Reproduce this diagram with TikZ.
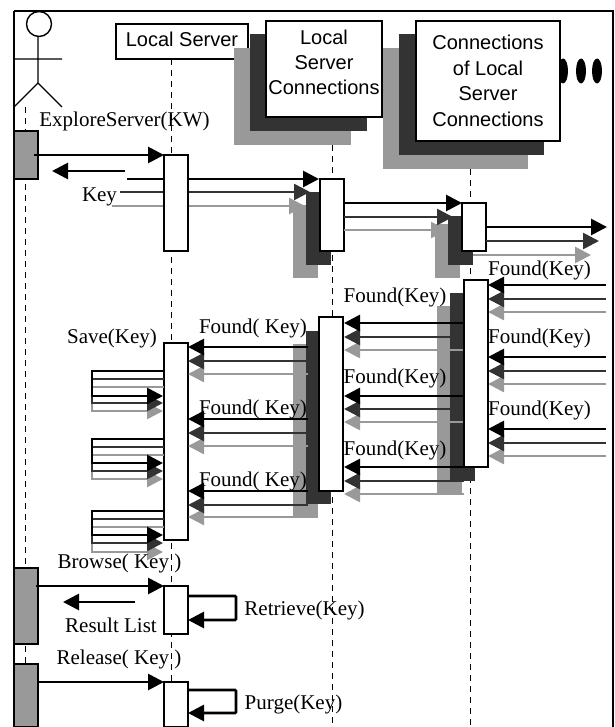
\documentclass[tikz,border=0pt]{standalone}
\usepackage{fontspec}
\setmainfont{Liberation Serif}
\setsansfont{Liberation Sans}
\usetikzlibrary{positioning, arrows.meta, shapes.geometric, fit}
\definecolor{msgdark}{RGB}{51,51,51}
\definecolor{msggray}{RGB}{153,153,153}
\tikzset{
  headbox/.style={rectangle, draw=black, line width=1.3pt, fill=white, inner sep=0pt, outer sep=0pt},
  headtext/.style={inner sep=0pt, align=center, font=\fontsize{20}{25.4}\selectfont\sffamily},
  actbox/.style={rectangle, draw=black, line width=1.2pt, fill=white, inner sep=0pt, outer sep=0pt},
  userbox/.style={rectangle, draw=black, line width=1.2pt, fill=msggray, inner sep=0pt, outer sep=0pt},
  msglabel/.style={anchor=base, inner sep=0pt, font=\fontsize{21}{25}\selectfont},
  lifeline/.style={draw=black, line width=0.8pt, dash pattern=on 6pt off 5pt},
  msgtop/.style={-{Triangle[length=16pt,width=16pt]}, draw=black, line width=2.8pt},
  msgmid/.style={-{Triangle[length=16pt,width=16pt]}, draw=msgdark, line width=2.6pt},
  msglow/.style={-{Triangle[length=16pt,width=16pt]}, draw=msggray, line width=2.6pt},
  shadedark/.style={fill=msgdark},
  shadegray/.style={fill=msggray}
}
\begin{document}
\begin{tikzpicture}[x=1pt, y=-1pt]
  \useasboundingbox (0,0) rectangle (614,727);

  % lifelines first, everything else sits on top
  \coordinate (userTop) at (25,107);
  \coordinate (localTop) at (171,59);
  \coordinate (connTop) at (332,145);
  \coordinate (subTop) at (470,169);
  \draw[lifeline] (userTop) -- (25,727);
  \draw[lifeline] (localTop) -- (171,727);
  \draw[lifeline] (connTop) -- (332,727);
  \draw[lifeline] (subTop) -- (470,727);

  % frame and actor
  \draw[line width=2pt] (14,727) -- (14,11);
  \draw[line width=1.4pt] (14,11) -- (613,11) -- (613,727);
  \draw[line width=1.4pt] (39,24) circle (12.5);
  \draw[line width=1.3pt] (38,36) -- (38,83) (14,59) -- (62,59)
    (14,107) -- (38,83) -- (62,107);

  % dots
  \fill (563,71) ellipse (5 and 12.5);
  \fill (581,71) ellipse (5 and 12.5);
  \fill (597,71) ellipse (5 and 12.5);

  % header boxes
  \node[headbox, fit={(116,24) (248,59)}] (localBox) {};
  \node[headtext] (localText) at (182,39) {Local Server};
  \fill[shadegray] (234,48) rectangle (351,145);
  \fill[shadedark] (250,34) rectangle (367,131);
  \node[headbox, fit={(266,21) (382,117)}] (connBox) {};
  \node[headtext] (connText) at (324,62.4) {Local\\Server\\Connections};
  \fill[shadegray] (383,48) rectangle (528,169);
  \fill[shadedark] (399,34) rectangle (544,155);
  \node[headbox, fit={(416,21) (560,141)}] (subBox) {};
  \node[headtext] (subText) at (488,80.8) {Connections\\of Local\\Server\\Connections};

  % shadows of the activations
  \fill[shadegray] (293,205) rectangle (318,278);
  \fill[shadedark] (306,192) rectangle (331,265);
  \fill[shadegray] (435,224) rectangle (460,278);
  \fill[shadedark] (448,216) rectangle (473,265);
  \fill[shadegray] (293,344) rectangle (318,518);
  \fill[shadedark] (306,331) rectangle (331,504);
  \fill[shadegray] (437,306) rectangle (462,494);
  \fill[shadedark] (450,293) rectangle (475,481);

  % activations
  \node[userbox, fit={(14,131) (38,179)}] (userA) {};
  \node[userbox, fit={(14,568) (38,644)}] (userB) {};
  \node[userbox, fit={(14,664) (38,727)}] (userC) {};
  \coordinate (localKeyA) at (127,179);
  \coordinate (localKeyB) at (120,192);
  \coordinate (localKeyC) at (112,206);
  \draw[msglow] (localKeyC) -- (305,206);
  \draw[msgmid] (localKeyB) -- (310,192);
  \draw[msgtop] (localKeyA) -- (319,179);
  \node[actbox, fit={(164,155) (188,251)}] (localA) {};
  \node[actbox, fit={(164,343) (188,540)}] (localB) {};
  \node[actbox, fit={(164,586) (188,634)}] (localC) {};
  \node[actbox, fit={(164,682) (188,727)}] (localD) {};

  \node[actbox, fit={(320,179) (344,251)}] (connA) {};
  \draw[msglow] (connA.east |- 0,230) -- (447,230);
  \draw[msgmid] (connA.east |- 0,217) -- (453,217);
  \draw[msgtop] (connA.east |- 0,203) -- (462,203);
  \node[actbox, fit={(319,317) (343,491)}] (connB) {};

  \node[actbox, fit={(462,203) (486,251)}] (subA) {};
  \coordinate (subLow) at (473,255);
  \draw[msglow] (subLow) -- (591,255);
  \draw[msgmid] (subA.east |- 0,241) -- (599,241);
  \draw[msgtop] (subA.east |- 0,227) -- (607,227);

  % found replies
  \foreach \ya/\yb/\yc in {285/299/312, 357/371/384, 429/443/456} {
    \coordinate (replyA) at (606,\ya);
    \coordinate (replyB) at (606,\yb);
    \coordinate (replyC) at (606,\yc);
    \draw[msglow] (replyC) -- (488,\yc);
    \draw[msgmid] (replyB) -- (488,\yb);
    \draw[msgtop] (replyA) -- (488,\ya);
  }
  \foreach \ya/\yb/\yc in {323/337/350, 396/409/422, 467/481/494} {
    \coordinate (replyA) at (464,\ya);
    \coordinate (replyB) at (464,\yb);
    \coordinate (replyC) at (464,\yc);
    \draw[msglow] (replyC) -- (344,\yc);
    \draw[msgmid] (replyB) -- (344,\yb);
    \draw[msgtop] (replyA) -- (344,\ya);
  }
  \foreach \ya/\yb/\yc in {347/361/374, 419/433/446, 491/505/517} {
    \coordinate (replyA) at (308,\ya);
    \coordinate (replyB) at (308,\yb);
    \coordinate (replyC) at (308,\yc);
    \draw[msglow] (replyC) -- (188,\yc);
    \draw[msgmid] (replyB) -- (188,\yb);
    \draw[msgtop] (replyA) -- (188,\ya);
  }
  \node[actbox, fit={(464,280) (488,467)}] (subB) {};

  % saves
  \foreach \ya/\yb/\yc/\yd/\ye/\yf in {371/379/387/396/403/411, 439/447/455/463/471/479, 511/519/527/535/543/552} {
    \draw[msglow] (localB.west |- 0,\yc) -- (92,\yc) -- (92,\yf) -- (163,\yf);
    \draw[msgmid] (localB.west |- 0,\yb) -- (92,\yb) -- (92,\ye) -- (163,\ye);
    \draw[msgtop] (localB.west |- 0,\ya) -- (92,\ya) -- (92,\yd) -- (163,\yd);
  }

  % user calls
  \coordinate (exploreEnd) at (34,155);
  \coordinate (keyStart) at (125,171);
  \coordinate (keyEnd) at (52,171);
  \coordinate (browseEnd) at (36,586);
  \coordinate (listStart) at (135,602);
  \coordinate (listEnd) at (63,602);
  \draw[msgtop] (exploreEnd) -- (localA.north west);
  \draw[msgtop] (keyStart) -- (keyEnd);
  \draw[msgtop] (browseEnd) -- (localC.north west);
  \draw[msgtop] (listStart) -- (listEnd);
  \draw[msgtop] (userC.east |- localD.north) -- (localD.north west);
  \draw[msgtop, rounded corners=1pt] (localC.east |- 0,596) -- (236,596) -- (236,620) -- (localC.east |- 0,620);
  \draw[msgtop, rounded corners=1pt] (localD.east |- 0,690) -- (236,690) -- (236,713) -- (localD.east |- 0,713);

  % labels
  \node[msglabel] (exploreLabel) at (124.5,127) {ExploreServer(KW)};
  \node[msglabel] (keyLabel) at (99.5,202) {Key};
  \node[msglabel] (saveLabel) at (112,343) {Save(Key)};
  \node[msglabel] (foundA) at (253,333) {Found( Key)};
  \node[msglabel] (foundB) at (253,414) {Found( Key)};
  \node[msglabel] (foundC) at (253,486) {Found( Key)};
  \node[msglabel] (foundD) at (395,302) {Found(Key)};
  \node[msglabel] (foundE) at (395,383) {Found(Key)};
  \node[msglabel] (foundF) at (395,455) {Found(Key)};
  \node[msglabel] (foundG) at (539.5,275) {Found(Key)};
  \node[msglabel] (foundH) at (539.5,343) {Found(Key)};
  \node[msglabel] (foundI) at (539.5,415) {Found(Key)};
  \node[msglabel] (browseLabel) at (119.5,568) {Browse( Key )};
  \node[msglabel] (listLabel) at (111,632) {Result List};
  \node[msglabel] (releaseLabel) at (119,664) {Release( Key )};
  \node[msglabel] (retrieveLabel) at (304.5,615) {Retrieve(Key)};
  \node[msglabel] (purgeLabel) at (293.5,709) {Purge(Key)};
\end{tikzpicture}
\end{document}
